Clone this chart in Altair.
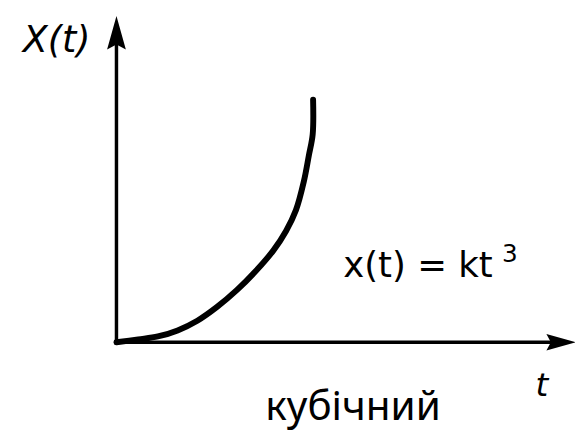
import altair as alt
import pandas as pd

# curve x(t) = k t^3 as drawn (axis units)
curve_t = [0.0, 0.11, 0.21, 0.31, 0.41, 0.51, 0.61, 0.71, 0.795, 0.86, 0.91, 0.95, 0.975, 0.995, 0.997]
curve_x = [0.0, 0.012, 0.024, 0.049, 0.089, 0.146, 0.215, 0.297, 0.378, 0.459, 0.545, 0.663, 0.768, 0.858, 1.0]

# axes extents (axis units)
t_axis_end = 2.21
x_axis_end = 1.256
t_arrow = 2.255
x_arrow = 1.276

y_label = "X(t)"
t_label = "t"
formula = "x(t) = kt"
formula_exp = "3"
caption = "кубічний"

label_t = [-0.475, 2.125, 1.15, 1.955, 0.755]
label_x = [1.195, -0.2195, 0.268, 0.33, -0.321]

W, H = 575, 428
xs = alt.Scale(domain=[-0.55, 2.325], nice=False, zero=False)
ys = alt.Scale(domain=[-0.374, 1.3659], nice=False, zero=False)

curve_df = pd.DataFrame({"t": curve_t, "x": curve_x, "o": list(range(len(curve_t)))})

curve = alt.Chart(curve_df).mark_line(
    color="#000000", strokeWidth=6, strokeCap="round", strokeJoin="round", interpolate="catmull-rom"
).encode(
    x=alt.X("t:Q", scale=xs, axis=None),
    y=alt.Y("x:Q", scale=ys, axis=None),
    order="o:Q",
)

yaxis = alt.Chart(pd.DataFrame({"t": [0.0], "x0": [-0.005], "x1": [x_axis_end]})).mark_rule(
    color="#000000", strokeWidth=3.5
).encode(
    x=alt.X("t:Q", scale=xs, axis=None),
    y=alt.Y("x0:Q", scale=ys, axis=None),
    y2="x1:Q",
)

xaxis = alt.Chart(pd.DataFrame({"t0": [-0.008], "t1": [t_axis_end], "x": [0.0]})).mark_rule(
    color="#000000", strokeWidth=3.5
).encode(
    x=alt.X("t0:Q", scale=xs, axis=None),
    x2="t1:Q",
    y=alt.Y("x:Q", scale=ys, axis=None),
)

arrow_path = "M0,-1L0.56,1L0,0.7L-0.56,1Z"

yarrow = alt.Chart(pd.DataFrame({"t": [0.0], "x": [x_arrow]})).mark_point(
    shape=arrow_path, filled=True, color="#000000", opacity=1, size=1156, strokeWidth=0
).encode(
    x=alt.X("t:Q", scale=xs, axis=None),
    y=alt.Y("x:Q", scale=ys, axis=None),
)

xarrow = alt.Chart(pd.DataFrame({"t": [t_arrow], "x": [0.0]})).mark_point(
    shape=arrow_path, filled=True, color="#000000", opacity=1, size=900, strokeWidth=0, angle=90
).encode(
    x=alt.X("t:Q", scale=xs, axis=None),
    y=alt.Y("x:Q", scale=ys, axis=None),
)

def label(i, text, **kw):
    df = pd.DataFrame({"t": [label_t[i]], "x": [label_x[i]], "s": [text]})
    return alt.Chart(df).mark_text(align="left", baseline="alphabetic", color="#000000", **kw).encode(
        x=alt.X("t:Q", scale=xs, axis=None),
        y=alt.Y("x:Q", scale=ys, axis=None),
        text="s:N",
    )

ylab = label(0, y_label, font="DejaVu Sans", fontSize=37, fontStyle="italic")
tlab = label(1, t_label, font="DejaVu Sans", fontSize=33, fontStyle="italic")
form = label(2, formula, font="DejaVu Sans", fontSize=36)
form3 = label(3, formula_exp, font="DejaVu Sans", fontSize=25)
cap = label(4, caption, font="Noto Sans", fontSize=41)

chart = alt.layer(yaxis, xaxis, yarrow, xarrow, curve, ylab, tlab, form, form3, cap).properties(
    width=W, height=H, padding=0, autosize=alt.AutoSizeParams(type="none")
).configure(background="white").configure_view(stroke=None)

chart.save("out.html", embed_options={"renderer": "svg", "actions": False})
